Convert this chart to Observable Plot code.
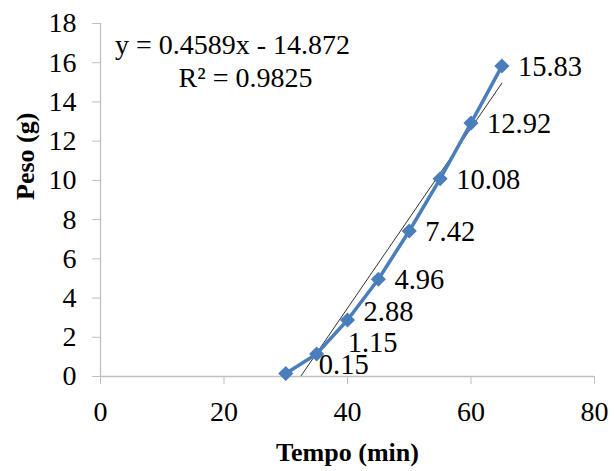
<!DOCTYPE html>
<html>
<head>
<meta charset="utf-8">
<script src="https://cdn.jsdelivr.net/npm/d3@7"></script>
<script src="https://cdn.jsdelivr.net/npm/@observablehq/plot@0.6"></script>
<style>
  html, body { margin: 0; padding: 0; background: #fff; }
  #chart svg { display: block; }
</style>
</head>
<body>
<div id="chart"></div>
<script>
// Data
const tempo = [30, 35, 40, 45, 50, 55, 60, 65];
const peso = [0.15, 1.15, 2.88, 4.96, 7.42, 10.08, 12.92, 15.83];
const pesoLabels = ["0.15", "1.15", "2.88", "4.96", "7.42", "10.08", "12.92", "15.83"];
const xTicks = [0, 20, 40, 60, 80];
const yTicks = [0, 2, 4, 6, 8, 10, 12, 14, 16, 18];
const trendSlope = 0.4589;
const trendIntercept = -14.872;
const equationText = "y = 0.4589x - 14.872";
const r2Text = "R² = 0.9825";
const xTitle = "Tempo (min)";
const yTitle = "Peso (g)";

const points = tempo.map((t, i) => ({x: t, y: peso[i], label: pesoLabels[i], i}));
const xMin = d3.min(tempo), xMax = d3.max(tempo);
const trend = [xMin, xMax].map(x => ({x, y: trendSlope * x + trendIntercept}));

const blue = "#4a7ebb";
const grey = "#bfbfbf";
const font = "Liberation Serif";

const normal = points.filter(d => d.i >= 3);
const chart = Plot.plot({
  width: 614,
  height: 471,
  marginLeft: 100,
  marginRight: 20,
  marginTop: 23,
  marginBottom: 95,
  style: {fontFamily: font, fontSize: "28px", color: "#000", background: "#fff"},
  x: {domain: [0, 80]},
  y: {domain: [0, 18]},
  marks: [
    Plot.axisX({ticks: xTicks, tickSize: 8, tickPadding: 17, stroke: grey, fill: "#000", fontSize: 28, fontFamily: font, label: null}),
    Plot.axisY({ticks: yTicks, tickSize: 8, tickPadding: 16, stroke: grey, fill: "#000", fontSize: 28, fontFamily: font, label: null}),
    Plot.ruleY([0], {stroke: grey, strokeWidth: 1.3}),
    Plot.ruleX([0], {stroke: grey, strokeWidth: 1.3}),
    Plot.line(trend, {x: "x", y: "y", stroke: "#333", strokeWidth: 1, clip: true}),
    Plot.line(points, {x: "x", y: "y", stroke: blue, strokeWidth: 3.5}),
    Plot.dot(points, {x: "x", y: "y", symbol: "diamond2", r: 6.8, fill: blue, stroke: null}),
    Plot.text(normal, {x: "x", y: "y", text: "label", textAnchor: "start", dx: 16, dy: 1, fontSize: 28.5, fontFamily: font}),
    Plot.text(points.filter(d => d.i === 2), {x: "x", y: "y", text: "label", textAnchor: "start", dx: 16, dy: -8, fontSize: 28.5, fontFamily: font}),
    Plot.text(points.filter(d => d.i === 1), {x: "x", y: "y", text: "label", textAnchor: "start", dx: 31, dy: -11, fontSize: 28.5, fontFamily: font}),
    Plot.text(points.filter(d => d.i === 0), {x: "x", y: "y", text: "label", textAnchor: "start", dx: 33, dy: -9, fontSize: 28.5, fontFamily: font}),
    Plot.text([equationText], {frameAnchor: "top-left", text: d => d, textAnchor: "middle", lineAnchor: "middle", dx: 132, dy: 22, fontSize: 28, fontFamily: font}),
    Plot.text([r2Text], {frameAnchor: "top-left", text: d => d, textAnchor: "middle", lineAnchor: "middle", dx: 145, dy: 55, fontSize: 28, fontFamily: font}),
    Plot.text([xTitle], {frameAnchor: "bottom", text: d => d, lineAnchor: "middle", dy: 76, fontSize: 26, fontWeight: "bold", fontFamily: font}),
    Plot.text([yTitle], {frameAnchor: "left", text: d => d, rotate: -90, lineAnchor: "middle", dx: -75, fontSize: 26, fontWeight: "bold", fontFamily: font})
  ]
});
document.getElementById("chart").appendChild(chart);
</script>
</body>
</html>
